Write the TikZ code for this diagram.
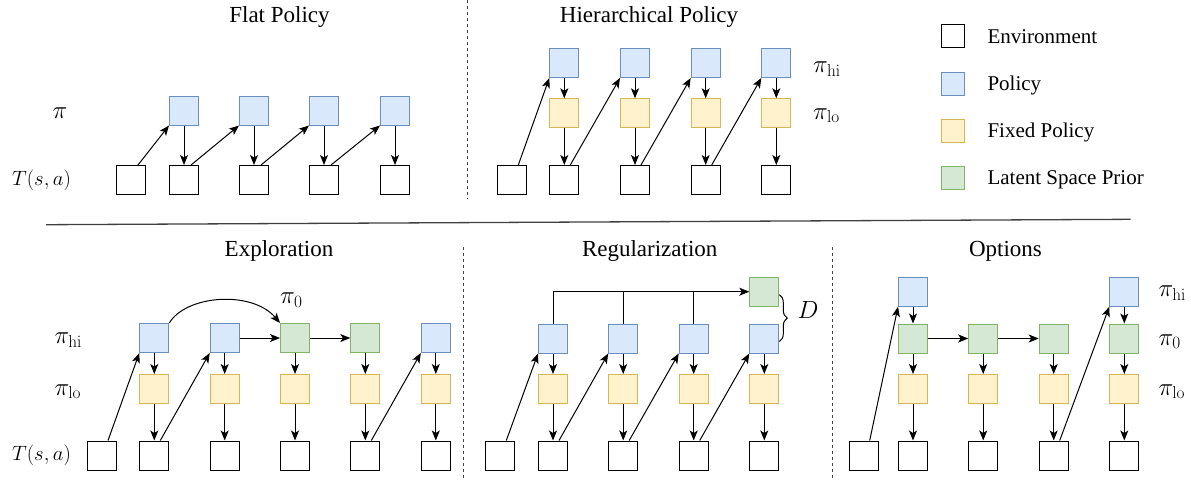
\documentclass[tikz,border=0pt]{standalone}
\usepackage[no-math]{fontspec}
\setmainfont{Liberation Serif}
\usetikzlibrary{arrows.meta,decorations.pathreplacing}
\definecolor{bfill}{HTML}{DAE8FC}\definecolor{bdraw}{HTML}{6C8EBF}
\definecolor{yfill}{HTML}{FFF2CC}\definecolor{ydraw}{HTML}{D6B656}
\definecolor{gfill}{HTML}{D5E8D4}\definecolor{gdraw}{HTML}{82B366}
\begin{document}
\begin{tikzpicture}[x=1pt,y=-1pt,
 box/.style={minimum size=29pt, inner sep=0pt, line width=1pt, draw},
 env/.style={box, draw=black, fill=white},
 pol/.style={box, draw=bdraw, fill=bfill},
 fix/.style={box, draw=ydraw, fill=yfill},
 lat/.style={box, draw=gdraw, fill=gfill},
 lg/.style={minimum size=23pt},
 arr/.style={-{Stealth[length=10pt,width=8pt,inset=2.5pt]}, line width=1pt},
 ttl/.style={font=\fontsize{23}{27}\selectfont, anchor=base},
 lgt/.style={font=\fontsize{21}{25}\selectfont, anchor=base west, inner sep=0pt},
 lbl/.style={font=\fontsize{21}{25}\selectfont, inner sep=0pt},
 plbl/.style={font=\fontsize{24}{28}\selectfont, inner sep=0pt},
 sep/.style={dash pattern=on 3pt off 3pt, line width=1pt, black!75},
]
\useasboundingbox (0,0) rectangle (1191,480);

% separators
\draw[sep] (467.3,0) -- (467.3,199);
\draw[sep] (463.3,247) -- (463.3,480);
\draw[sep] (832.2,247) -- (832.2,480);
\draw[line width=1.3pt, black!75] (46,224.7) -- (1130.7,219.3);

% ---------- Flat Policy ----------
\node[ttl] (t1) at (279.5,22) {Flat Policy};
\node[plbl, anchor=base] (l1) at (60,118) {$\pi$};
\node[lbl] (l2) at (41.5,180) {$T(s,a)$};
\foreach \n/\x in {0/131,1/184,2/254,3/324,4/395} \node[env] (fe\n) at (\x,180) {};
\foreach \n/\x in {1/184,2/254,3/324,4/395} \node[pol] (fp\n) at (\x,110.5) {};
\foreach \n in {1,...,4} {
  \pgfmathtruncatemacro{\m}{\n-1}
  \draw[arr] ([xshift=7pt]fe\m.north) -- (fp\n.south west);
  \draw[arr] (fp\n.south) -- (fe\n.north);
}

% ---------- Hierarchical Policy ----------
\node[ttl] (t2) at (649,22) {Hierarchical Policy};
\node[plbl, anchor=base west] (l3) at (813,72.5) {$\pi_{\mathrm{hi}}$};
\node[plbl, anchor=base west] (l4) at (813,119) {$\pi_{\mathrm{lo}}$};
\foreach \n/\x in {0/512.3,1/564.3,2/635,3/705.7,4/776.3} \node[env] (he\n) at (\x,180) {};
\foreach \n/\x in {1/564.3,2/635,3/705.7,4/776.3} {
  \node[pol] (hb\n) at (\x,63) {};
  \node[fix] (hy\n) at (\x,113.3) {};
}
\foreach \n in {1,...,4} {
  \pgfmathtruncatemacro{\m}{\n-1}
  \draw[arr] ([xshift=6pt]he\m.north) -- (hb\n.south west);
  \draw[arr] (hb\n.south) -- (hy\n.north);
  \draw[arr] (hy\n.south) -- (he\n.north);
}

% ---------- Legend ----------
\node[env, lg] (k1) at (952.5,36.3) {};
\node[pol, lg] (k2) at (952.5,83.5) {};
\node[fix, lg] (k3) at (952.5,130.5) {};
\node[lat, lg] (k4) at (952.5,177.5) {};
\node[lgt] (k1t) at (987.3,43.5) {Environment};
\node[lgt] (k2t) at (987.3,90.6) {Policy};
\node[lgt] (k3t) at (987.3,137.6) {Fixed Policy};
\node[lgt] (k4t) at (987.3,184.6) {Latent Space Prior};

% ---------- Exploration ----------
\node[ttl] (t3) at (279,256) {Exploration};
\node[plbl, anchor=base west] (l5) at (54.3,343.3) {$\pi_{\mathrm{hi}}$};
\node[plbl, anchor=base west] (l6) at (54.3,395) {$\pi_{\mathrm{lo}}$};
\node[lbl] (l7) at (41.5,455.5) {$T(s,a)$};
\node[plbl, anchor=base west] (l8) at (280,303.3) {$\pi_{0}$};
\foreach \n/\x in {0/102,1/154.3,2/224.7,3/295,4/365.3,5/435.8} \node[env] (xe\n) at (\x,455.5) {};
\node[pol] (xb1) at (154.3,338) {};
\node[pol] (xb2) at (224.7,338) {};
\node[lat] (xb3) at (295,338) {};
\node[lat] (xb4) at (365.3,338) {};
\node[pol] (xb5) at (435.8,338) {};
\foreach \n/\x in {1/154.3,2/224.7,3/295,4/365.3,5/435.8} \node[fix] (xy\n) at (\x,389) {};
\foreach \n in {1,...,5} {
  \draw[arr] (xb\n.south) -- (xy\n.north);
  \draw[arr] (xy\n.south) -- (xe\n.north);
}
\draw[arr] ([xshift=6pt]xe0.north) -- (xb1.south west);
\draw[arr] ([xshift=6pt]xe1.north) -- (xb2.south west);
\draw[arr] ([xshift=6pt]xe4.north) -- (xb5.south west);
\draw[arr] (xb2.east) -- (xb3.west);
\draw[arr] (xb3.east) -- (xb4.west);
\draw[arr] (xb1.north east) .. controls (186,295) and (252,290) .. (xb3.north west);

% ---------- Regularization ----------
\node[ttl] (t4) at (649.7,256) {Regularization};
\foreach \n/\x in {0/500.3,1/553,2/623.2,3/693.7,4/764.3} \node[env] (re\n) at (\x,455.5) {};
\foreach \n/\x in {1/553,2/623.2,3/693.7,4/764.3} {
  \node[pol] (rb\n) at (\x,338.5) {};
  \node[fix] (ry\n) at (\x,389) {};
}
\node[lat] (rg) at (764.3,291.7) {};
\foreach \n in {1,...,4} {
  \pgfmathtruncatemacro{\m}{\n-1}
  \draw[arr] ([xshift=6pt]re\m.north) -- (rb\n.south west);
  \draw[arr] (rb\n.south) -- (ry\n.north);
  \draw[arr] (ry\n.south) -- (re\n.north);
}
\draw[arr] (rb1.north) |- (rg.west);
\draw[line width=1pt] (rb2.north) -- (rb2.north |- rg.west);
\draw[line width=1pt] (rb3.north) -- (rb3.north |- rg.west);
\coordinate (bt) at ([yshift=-3pt]rg.east);
\coordinate (bb) at ([yshift=-3pt]rb4.east);
\draw[line width=1pt, decorate, decoration={brace, amplitude=8pt}] (bt) -- (bb);
\node[plbl, anchor=base west] (ld) at (797.5,318.3) {$D$};

% ---------- Options ----------
\node[ttl] (t5) at (1005.5,256) {Options};
\node[plbl, anchor=base west] (l9) at (1158.3,296.7) {$\pi_{\mathrm{hi}}$};
\node[plbl, anchor=base west] (l10) at (1158.3,345) {$\pi_{0}$};
\node[plbl, anchor=base west] (l11) at (1158.3,395) {$\pi_{\mathrm{lo}}$};
\foreach \n/\x in {0/863.7,1/913,2/983.2,3/1053.7,4/1124.3} \node[env] (oe\n) at (\x,455.5) {};
\node[pol] (ob1) at (913,291.7) {};
\node[pol] (ob4) at (1124.3,291.7) {};
\foreach \n/\x in {1/913,2/983.2,3/1053.7,4/1124.3} {
  \node[lat] (og\n) at (\x,338.5) {};
  \node[fix] (oy\n) at (\x,389) {};
}
\foreach \n in {1,...,4} {
  \draw[arr] (og\n.south) -- (oy\n.north);
  \draw[arr] (oy\n.south) -- (oe\n.north);
}
\draw[arr] ([xshift=6pt]oe0.north) -- (ob1.south west);
\draw[arr] ([xshift=6pt]oe3.north) -- (ob4.south west);
\draw[arr] (ob1.south) -- (og1.north);
\draw[arr] (ob4.south) -- (og4.north);
\draw[arr] (og1.east) -- (og2.west);
\draw[arr] (og2.east) -- (og3.west);
\end{tikzpicture}
\end{document}
